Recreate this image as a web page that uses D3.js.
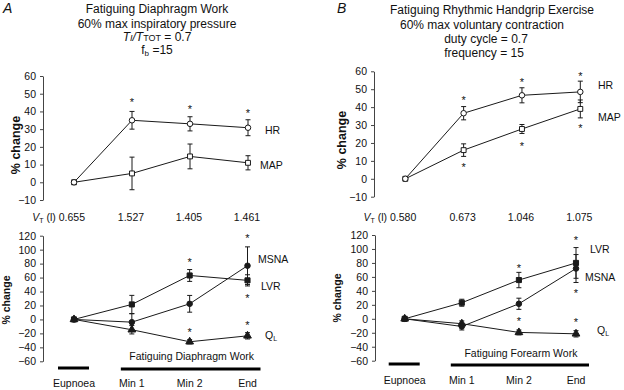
<!DOCTYPE html>
<html>
<head>
<meta charset="utf-8">
<script src="https://cdnjs.cloudflare.com/ajax/libs/d3/7.8.5/d3.min.js"></script>
<style>
body { margin: 0; background: #fff; }
svg text { font-family: "Liberation Sans", Arial, sans-serif; fill: #111; }
</style>
</head>
<body>
<div id="chart"></div>
<script>
// Data
var categories = ['Eupnoea', 'Min 1', 'Min 2', 'End'];
var vt_a = ['0.655', '1.527', '1.405', '1.461'];
var vt_b = ['0.580', '0.673', '1.046', '1.075'];
var ticks_top = [-10, 0, 10, 20, 30, 40, 50, 60];
var ticks_bottom = [-60, -40, -20, 0, 20, 40, 60, 80, 100, 120];

// Panel A, top
var hr_a       = [0, 35, 33, 30.8];
var hr_a_err   = [0, 5, 4, 4.5];
var map_a      = [0, 5, 14.6, 11];
var map_a_err  = [0, 9.2, 7, 4];
var stars_a_top = [['Min 1', 46.5], ['Min 2', 42.5], ['End', 40.5]];

// Panel A, bottom
var lvr_a       = [0, 21.5, 63, 56];
var lvr_a_err   = [0, 13, 8.5, 8];
var msna_a      = [0, -3.9, 22.4, 77];
var msna_a_err  = [0, 12, 12, 27];
var ql_a        = [0, -14.8, -32, -23.5];
var ql_a_err    = [0, 6, 3, 4.5];
var stars_a_bottom = [['Min 2', 85.5], ['Min 2', -15.8], ['End', 119], ['End', 33.4], ['End', -5.3]];

// Panel B, top
var hr_b       = [0, 36.6, 46.6, 48.5];
var hr_b_err   = [0, 3.7, 4.2, 6];
var map_b      = [0, 16, 27.8, 39];
var map_b_err  = [0, 3.5, 2.5, 5];
var stars_b_top = [['Min 1', 45], ['Min 2', 55.4], ['End', 58.6], ['Min 1', 7.8], ['Min 2', 19.6], ['End', 29.3]];

// Panel B, bottom
var lvr_b       = [0, 23, 55.5, 80];
var lvr_b_err   = [0, 5, 11, 22];
var msna_b      = [0, -11, 21.5, 72];
var msna_b_err  = [0, 5, 8, 20];
var ql_b        = [0, -7, -19.5, -21.5];
var ql_b_err    = [0, 4, 3.5, 4.5];
var stars_b_bottom = [['Min 2', 76], ['Min 2', -1], ['End', 115.5], ['End', 39.4], ['End', -1.4]];

// The SVG Element
var svg = d3.select('#chart')
    .append('svg')
    .attr('width', 624)
    .attr('height', 390);

var ink = '#1a1a1a';

// Helpers
function makeAxis(scale_y, ticks, axis_x, font_size) {
    var axis = d3.axisLeft(scale_y)
        .tickValues(ticks)
        .tickSize(3)
        .tickSizeOuter(0)
        .tickPadding(4);
    var g = svg.append('g')
        .attr('transform', 'translate(' + axis_x + ',0)')
        .call(axis);
    g.attr('font-family', null).attr('font-size', null);
    g.selectAll('text').style('font-size', font_size + 'px');
    g.selectAll('line, path').attr('stroke', '#444');
    return g;
}

function drawSeries(scale_x, scale_y, values, errors, symbol, size, filled) {
    var g = svg.append('g');
    var pts = categories.map(function(c, i) {
        return { c: c, v: values[i], e: errors[i] };
    });

    // error bars
    var eb = g.selectAll('.err')
        .data(pts.filter(function(d) { return d.e > 0; }))
        .enter()
        .append('g');
    eb.append('line')
        .attr('x1', function(d) { return scale_x(d.c); })
        .attr('x2', function(d) { return scale_x(d.c); })
        .attr('y1', function(d) { return scale_y(d.v - d.e); })
        .attr('y2', function(d) { return scale_y(d.v + d.e); })
        .attr('stroke', ink).attr('stroke-width', 1);
    [-1, 1].forEach(function(s) {
        eb.append('line')
            .attr('x1', function(d) { return scale_x(d.c) - 2.5; })
            .attr('x2', function(d) { return scale_x(d.c) + 2.5; })
            .attr('y1', function(d) { return scale_y(d.v + s * d.e); })
            .attr('y2', function(d) { return scale_y(d.v + s * d.e); })
            .attr('stroke', ink).attr('stroke-width', 1);
    });

    // line
    var line = d3.line()
        .x(function(d) { return scale_x(d.c); })
        .y(function(d) { return scale_y(d.v); });
    g.append('path')
        .datum(pts)
        .attr('d', line)
        .attr('fill', 'none')
        .attr('stroke', ink)
        .attr('stroke-width', 1);

    // markers
    g.selectAll('.mark')
        .data(pts)
        .enter()
        .append('path')
        .attr('transform', function(d) {
            return 'translate(' + scale_x(d.c) + ',' + scale_y(d.v) + ')';
        })
        .attr('d', d3.symbol().type(symbol).size(size))
        .attr('fill', filled ? ink : '#fff')
        .attr('stroke', ink)
        .attr('stroke-width', 1);
}

function drawStars(scale_x, scale_y, stars) {
    svg.append('g')
        .selectAll('text')
        .data(stars)
        .enter()
        .append('text')
        .attr('x', function(d) { return scale_x(d[0]); })
        .attr('y', function(d) { return scale_y(d[1]) + 6; })
        .attr('text-anchor', 'middle')
        .style('font-size', '11px')
        .text('*');
}

function label(x, y, txt, size, opts) {
    var t = svg.append('text')
        .attr('x', x)
        .attr('y', y)
        .style('font-size', size + 'px')
        .text(txt);
    if (opts && opts.anchor) t.attr('text-anchor', opts.anchor);
    if (opts && opts.bold) t.style('font-weight', 'bold');
    if (opts && opts.italic) t.style('font-style', 'italic');
    return t;
}

function yLabel(x, y, size) {
    svg.append('text')
        .attr('transform', 'translate(' + x + ',' + y + ') rotate(-90)')
        .attr('text-anchor', 'middle')
        .style('font-size', size + 'px')
        .style('font-weight', 'bold')
        .text('% change');
}

function vtRow(scale_x, values, y) {
    var first = svg.append('text')
        .attr('x', scale_x(categories[0]) + 11)
        .attr('y', y)
        .attr('text-anchor', 'end')
        .style('font-size', '10.5px');
    first.append('tspan').style('font-style', 'italic').text('V');
    first.append('tspan').attr('dy', 2).style('font-size', '7px').text('T');
    first.append('tspan').attr('dy', -2).text(' (l) ' + values[0]);
    svg.append('g')
        .selectAll('text')
        .data(values.slice(1))
        .enter()
        .append('text')
        .attr('x', function(d, i) { return scale_x(categories[i + 1]) - 1; })
        .attr('y', y)
        .attr('text-anchor', 'middle')
        .style('font-size', '10.5px')
        .text(function(d) { return d; });
}

function bottomBars(scale_x, bar_y, work_text, text_y, cat_y) {
    svg.append('line')
        .attr('x1', scale_x(categories[0]) - 16).attr('x2', scale_x(categories[0]) + 15)
        .attr('y1', bar_y).attr('y2', bar_y)
        .attr('stroke', '#000').attr('stroke-width', 3);
    svg.append('line')
        .attr('x1', scale_x(categories[1]) - 11).attr('x2', scale_x(categories[3]) + 13)
        .attr('y1', bar_y + 1).attr('y2', bar_y + 1)
        .attr('stroke', '#000').attr('stroke-width', 3);
    label((scale_x(categories[1]) + scale_x(categories[3])) / 2 + 2, text_y, work_text, 10.5, { anchor: 'middle' });
    svg.append('g')
        .selectAll('text')
        .data(categories)
        .enter()
        .append('text')
        .attr('x', function(d) { return scale_x(d); })
        .attr('y', cat_y)
        .attr('text-anchor', 'middle')
        .style('font-size', '10.5px')
        .text(function(d) { return d; });
}

// ---------- Panel A ----------
label(3, 13, 'A', 14, { italic: true });
label(157, 13, 'Fatiguing Diaphragm Work', 12, { anchor: 'middle' });
label(157, 28, '60% max inspiratory pressure', 12, { anchor: 'middle' });
var ti = svg.append('text').attr('x', 157).attr('y', 41)
    .attr('text-anchor', 'middle').style('font-size', '12px');
ti.append('tspan').style('font-style', 'italic').text('T');
ti.append('tspan').style('font-style', 'italic').style('font-size', '9px').text('I');
ti.append('tspan').style('font-style', 'italic').text('/T');
ti.append('tspan').style('font-size', '9px').text('TOT');
ti.append('tspan').text(' = 0.7');
var fb = svg.append('text').attr('x', 157).attr('y', 54)
    .attr('text-anchor', 'middle').style('font-size', '12px');
fb.append('tspan').text('f');
fb.append('tspan').attr('dy', 2).style('font-size', '8px').text('b');
fb.append('tspan').attr('dy', -2).text(' =15');

var xa_top = d3.scalePoint().domain(categories).range([74, 248]);
var ya_top = d3.scaleLinear().domain([-10, 60]).range([200, 76]);
makeAxis(ya_top, ticks_top, 43, 10.5);
yLabel(20, 145, 12.5);
drawSeries(xa_top, ya_top, map_a, map_a_err, d3.symbolSquare, 24, false);
drawSeries(xa_top, ya_top, hr_a, hr_a_err, d3.symbolCircle, 24, false);
drawStars(xa_top, ya_top, stars_a_top);
label(265, 134, 'HR', 10.5);
label(260, 169, 'MAP', 10.5);

vtRow(xa_top, vt_a, 220.5);

var xa_bot = d3.scalePoint().domain(categories).range([74, 247.5]);
var ya_bot = d3.scaleLinear().domain([-60, 120]).range([361.3, 235.7]);
makeAxis(ya_bot, ticks_bottom, 43, 10.5);
yLabel(10, 300, 10.5);
drawSeries(xa_bot, ya_bot, ql_a, ql_a_err, d3.symbolTriangle, 26, true);
drawSeries(xa_bot, ya_bot, msna_a, msna_a_err, d3.symbolCircle, 24, true);
drawSeries(xa_bot, ya_bot, lvr_a, lvr_a_err, d3.symbolSquare, 26, true);
drawStars(xa_bot, ya_bot, stars_a_bottom);
label(258, 263, 'MSNA', 10.5);
label(261, 290, 'LVR', 10.5);
var qa = label(265, 339, 'Q', 10.5);
qa.append('tspan').attr('dy', 2).style('font-size', '7px').text('L');
bottomBars(xa_bot, 368, 'Fatiguing Diaphragm Work', 360, 386.5);

// ---------- Panel B ----------
label(337, 13, 'B', 14, { italic: true });
label(492, 14, 'Fatiguing Rhythmic Handgrip Exercise', 12, { anchor: 'middle' });
label(482, 29, '60% max voluntary contraction', 12, { anchor: 'middle' });
label(486, 43, 'duty cycle = 0.7', 12, { anchor: 'middle' });
label(484, 57, 'frequency = 15', 12, { anchor: 'middle' });

var xb_top = d3.scalePoint().domain(categories).range([405.3, 580.3]);
var yb_top = d3.scaleLinear().domain([-10, 60]).range([196.7, 71.3]);
makeAxis(yb_top, ticks_top, 374, 10.5);
yLabel(346, 140, 12.5);
drawSeries(xb_top, yb_top, map_b, map_b_err, d3.symbolSquare, 24, false);
drawSeries(xb_top, yb_top, hr_b, hr_b_err, d3.symbolCircle, 24, false);
drawStars(xb_top, yb_top, stars_b_top);
label(598, 89, 'HR', 10.5);
label(598, 121, 'MAP', 10.5);

vtRow(xb_top, vt_b, 221);

var xb_bot = d3.scalePoint().domain(categories).range([404.7, 576]);
var yb_bot = d3.scaleLinear().domain([-60, 120]).range([360.7, 235]);
makeAxis(yb_bot, ticks_bottom, 375, 10.5);
yLabel(341, 298, 10.5);
drawSeries(xb_bot, yb_bot, ql_b, ql_b_err, d3.symbolTriangle, 26, true);
drawSeries(xb_bot, yb_bot, msna_b, msna_b_err, d3.symbolCircle, 24, true);
drawSeries(xb_bot, yb_bot, lvr_b, lvr_b_err, d3.symbolSquare, 26, true);
drawStars(xb_bot, yb_bot, stars_b_bottom);
label(590, 253, 'LVR', 10.5);
label(585, 281, 'MSNA', 10.5);
var qb = label(597, 334, 'Q', 10.5);
qb.append('tspan').attr('dy', 2).style('font-size', '7px').text('L');
bottomBars(xb_bot, 364, 'Fatiguing Forearm Work', 356.5, 384);
</script>
</body>
</html>
